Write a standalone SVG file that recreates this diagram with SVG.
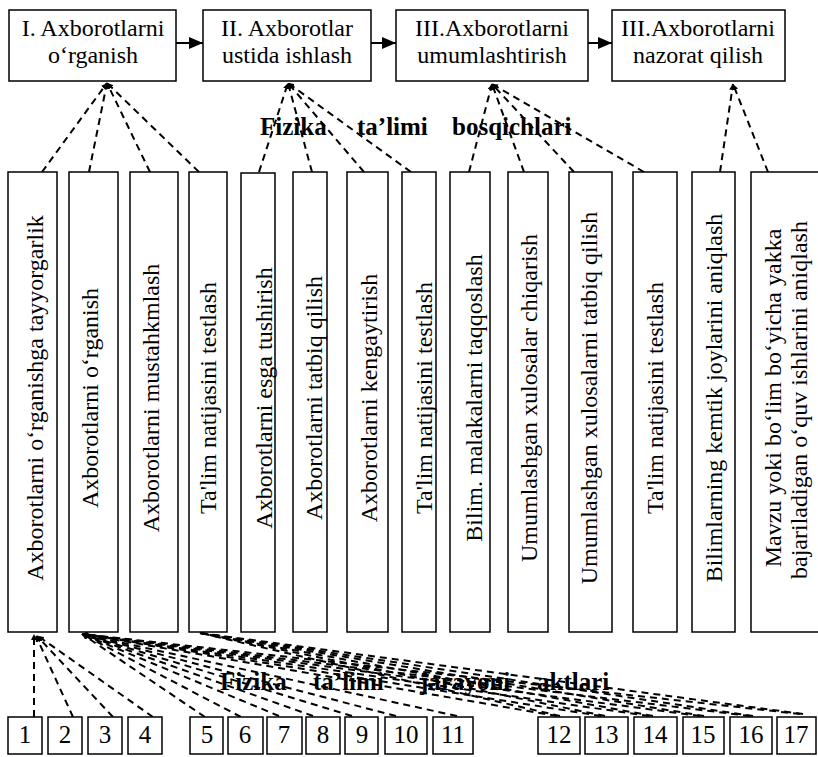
<svg xmlns="http://www.w3.org/2000/svg" width="818" height="757" viewBox="0 0 818 757" font-family="'Liberation Serif', 'DejaVu Serif', serif">
<defs>
<style>
text{font-family:'Liberation Serif','DejaVu Serif',serif}
.box{fill:#fff;stroke:#000;stroke-width:1.5}
.t{font-size:24px;fill:#000}
.tc{text-anchor:middle}
.lbl{font-size:25px;font-weight:bold;fill:#000}
.num{font-size:25px;fill:#000;text-anchor:middle}
.arr{stroke:#000;stroke-width:2;fill:none}
.dash{stroke:#000;stroke-width:2;fill:none;stroke-dasharray:7 5}
</style>
<marker id="ah" viewBox="0 0 14 12" refX="14" refY="6" markerWidth="14" markerHeight="12" markerUnits="userSpaceOnUse" orient="auto"><path d="M0,0 L14,6 L0,12 Z" fill="#000"/></marker>
<marker id="tip" viewBox="0 0 6 6" refX="6" refY="3" markerWidth="6" markerHeight="6" markerUnits="userSpaceOnUse" orient="auto"><path d="M0,0 L6,3 L0,6 Z" fill="#000"/></marker>
</defs>
<rect width="818" height="757" fill="#fff"/>

<g id="connectors">
<line class="arr" x1="176" y1="43" x2="203" y2="43" marker-end="url(#ah)"/>
<line class="arr" x1="371" y1="43" x2="396" y2="43" marker-end="url(#ah)"/>
<line class="arr" x1="588" y1="43" x2="612" y2="43" marker-end="url(#ah)"/>
<line class="dash" x1="42" y1="172" x2="107" y2="83" marker-end="url(#tip)"/>
<line class="dash" x1="89" y1="172" x2="107" y2="83" marker-end="url(#tip)"/>
<line class="dash" x1="150" y1="172" x2="107" y2="83" marker-end="url(#tip)"/>
<line class="dash" x1="199" y1="172" x2="107" y2="83" marker-end="url(#tip)"/>
<line class="dash" x1="259" y1="172" x2="288" y2="83" marker-end="url(#tip)"/>
<line class="dash" x1="312" y1="172" x2="288" y2="83" marker-end="url(#tip)"/>
<line class="dash" x1="364" y1="172" x2="288" y2="83" marker-end="url(#tip)"/>
<line class="dash" x1="411" y1="172" x2="288" y2="83" marker-end="url(#tip)"/>
<line class="dash" x1="469" y1="172" x2="492" y2="84" marker-end="url(#tip)"/>
<line class="dash" x1="524" y1="172" x2="492" y2="84" marker-end="url(#tip)"/>
<line class="dash" x1="574" y1="172" x2="492" y2="84" marker-end="url(#tip)"/>
<line class="dash" x1="644" y1="172" x2="492" y2="84" marker-end="url(#tip)"/>
<line class="dash" x1="720" y1="172" x2="733" y2="84" marker-end="url(#tip)"/>
<line class="dash" x1="768" y1="172" x2="733" y2="84" marker-end="url(#tip)"/>
<line class="dash" x1="34" y1="717" x2="34" y2="634" marker-end="url(#tip)"/>
<line class="dash" x1="73" y1="717" x2="36" y2="636" marker-end="url(#tip)"/>
<line class="dash" x1="113" y1="717" x2="37" y2="636" marker-end="url(#tip)"/>
<line class="dash" x1="153" y1="717" x2="38" y2="636" marker-end="url(#tip)"/>
<g marker-end="url(#tip)">
<line class="dash" x1="205" y1="717" x2="82" y2="634"/>
<line class="dash" x1="241" y1="717" x2="82" y2="634"/>
<line class="dash" x1="279" y1="716" x2="82" y2="634"/>
<line class="dash" x1="313" y1="716" x2="82" y2="634"/>
<line class="dash" x1="352" y1="716" x2="82" y2="634"/>
<line class="dash" x1="396" y1="716" x2="82" y2="634"/>
<line class="dash" x1="457" y1="716" x2="82" y2="634"/>
<line class="dash" x1="557" y1="716" x2="82" y2="634"/>
<line class="dash" x1="601" y1="716" x2="82" y2="634"/>
<line class="dash" x1="649" y1="716" x2="82" y2="634"/>
<line class="dash" x1="700" y1="716" x2="82" y2="634"/>
<line class="dash" x1="750" y1="716" x2="82" y2="634"/>
<line class="dash" x1="800" y1="714" x2="82" y2="634"/>
</g>
<line class="dash" x1="560" y1="716" x2="200" y2="633"/>
<line class="dash" x1="605" y1="716" x2="200" y2="633"/>
<line class="dash" x1="653" y1="716" x2="200" y2="633"/>
<line class="dash" x1="704" y1="716" x2="200" y2="633"/>
<line class="dash" x1="753" y1="716" x2="200" y2="633"/>
<line class="dash" x1="803" y1="714" x2="200" y2="633"/>
</g>

<g id="stage1"><rect class="box" x="9" y="10" width="167" height="71"/><text class="t tc" x="93" y="36">I. Axborotlarni</text><text class="t tc" x="93" y="63">o‘rganish</text></g>
<g id="stage2"><rect class="box" x="203" y="10" width="168" height="71"/><text class="t tc" x="287" y="36">II. Axborotlar</text><text class="t tc" x="287" y="63">ustida ishlash</text></g>
<g id="stage3"><rect class="box" x="396" y="10" width="192" height="71"/><text class="t tc" x="492" y="36">III.Axborotlarni</text><text class="t tc" x="492" y="63">umumlashtirish</text></g>
<g id="stage4"><rect class="box" x="612" y="10" width="173" height="71"/><text class="t tc" x="698" y="36">III.Axborotlarni</text><text class="t tc" x="698" y="63">nazorat qilish</text></g>

<g id="title1"><text class="lbl" y="135"><tspan x="260">Fizika</tspan><tspan x="357">ta’limi</tspan><tspan x="452">bosqichlari</tspan></text></g>

<g id="v1"><rect class="box" x="8" y="172" width="49" height="460"/><text class="t tc" transform="translate(43,398) rotate(-90)">Axborotlarni o‘rganishga tayyorgarlik</text></g>
<g id="v2"><rect class="box" x="69" y="172" width="49" height="460"/><text class="t tc" transform="translate(98,398) rotate(-90)">Axborotlarni o‘rganish</text></g>
<g id="v3"><rect class="box" x="130" y="172" width="48" height="460"/><text class="t tc" transform="translate(159,398) rotate(-90)">Axborotlarni mustahkmlash</text></g>
<g id="v4"><rect class="box" x="189" y="172" width="38" height="460"/><text class="t tc" transform="translate(216,398) rotate(-90)">Ta'lim natijasini testlash</text></g>
<g id="v5"><rect class="box" x="241" y="173" width="34" height="459"/><text class="t tc" transform="translate(272,398) rotate(-90)">Axborotlarni esga tushirish</text></g>
<g id="v6"><rect class="box" x="293" y="172" width="34" height="460"/><text class="t tc" transform="translate(322,398) rotate(-90)">Axborotlarni tatbiq qilish</text></g>
<g id="v7"><rect class="box" x="347" y="172" width="41" height="460"/><text class="t tc" transform="translate(377,398) rotate(-90)">Axborotlarni kengaytirish</text></g>
<g id="v8"><rect class="box" x="402" y="172" width="34" height="460"/><text class="t tc" transform="translate(432,398) rotate(-90)">Ta'lim natijasini testlash</text></g>
<g id="v9"><rect class="box" x="450" y="172" width="40" height="460"/><text class="t tc" transform="translate(482,398) rotate(-90)">Bilim. malakalarni taqqoslash</text></g>
<g id="v10"><rect class="box" x="508" y="172" width="40" height="460"/><text class="t tc" transform="translate(537,398) rotate(-90)">Umumlashgan xulosalar chiqarish</text></g>
<g id="v11"><rect class="box" x="569" y="172" width="43" height="460"/><text class="t tc" transform="translate(597,398) rotate(-90)">Umumlashgan xulosalarni tatbiq qilish</text></g>
<g id="v12"><rect class="box" x="633" y="172" width="44" height="460"/><text class="t tc" transform="translate(663,398) rotate(-90)">Ta'lim natijasini testlash</text></g>
<g id="v13"><rect class="box" x="692" y="172" width="43" height="460"/><text class="t tc" transform="translate(722,398) rotate(-90)">Bilimlarning kemtik joylarini aniqlash</text></g>
<g id="v14"><rect class="box" x="751" y="172" width="80" height="460"/><text class="t tc" transform="translate(781,398) rotate(-90)">Mavzu yoki bo‘lim bo‘yicha yakka</text><text class="t tc" transform="translate(807,400) rotate(-90)">bajariladigan o‘quv ishlarini aniqlash</text></g>

<g id="title2"><text class="lbl" y="690"><tspan x="220">Fizika</tspan><tspan x="313">ta’limi</tspan><tspan x="420">jarayoni</tspan><tspan x="537">aktlari</tspan></text></g>

<g id="n1"><rect class="box" x="8" y="717" width="34" height="37"/><text class="num" x="25" y="743">1</text></g>
<g id="n2"><rect class="box" x="48" y="717" width="34" height="37"/><text class="num" x="65" y="743">2</text></g>
<g id="n3"><rect class="box" x="88" y="717" width="34" height="37"/><text class="num" x="105" y="743">3</text></g>
<g id="n4"><rect class="box" x="128" y="717" width="34" height="37"/><text class="num" x="145" y="743">4</text></g>
<g id="n5"><rect class="box" x="190" y="717" width="33" height="37"/><text class="num" x="207" y="743">5</text></g>
<g id="n6"><rect class="box" x="228" y="717" width="35" height="37"/><text class="num" x="245" y="743">6</text></g>
<g id="n7"><rect class="box" x="267" y="717" width="35" height="37"/><text class="num" x="284" y="743">7</text></g>
<g id="n8"><rect class="box" x="306" y="717" width="34" height="37"/><text class="num" x="323" y="743">8</text></g>
<g id="n9"><rect class="box" x="345" y="717" width="33" height="37"/><text class="num" x="362" y="743">9</text></g>
<g id="n10"><rect class="box" x="385" y="717" width="42" height="37"/><text class="num" x="406" y="743">10</text></g>
<g id="n11"><rect class="box" x="433" y="717" width="40" height="37"/><text class="num" x="453" y="743">11</text></g>
<g id="n12"><rect class="box" x="538" y="717" width="42" height="37"/><text class="num" x="559" y="743">12</text></g>
<g id="n13"><rect class="box" x="585" y="717" width="43" height="37"/><text class="num" x="606" y="743">13</text></g>
<g id="n14"><rect class="box" x="634" y="717" width="43" height="37"/><text class="num" x="655" y="743">14</text></g>
<g id="n15"><rect class="box" x="683" y="717" width="41" height="37"/><text class="num" x="703" y="743">15</text></g>
<g id="n16"><rect class="box" x="730" y="717" width="42" height="37"/><text class="num" x="751" y="743">16</text></g>
<g id="n17"><rect class="box" x="777" y="717" width="39" height="37"/><text class="num" x="796" y="743">17</text></g>
</svg>
